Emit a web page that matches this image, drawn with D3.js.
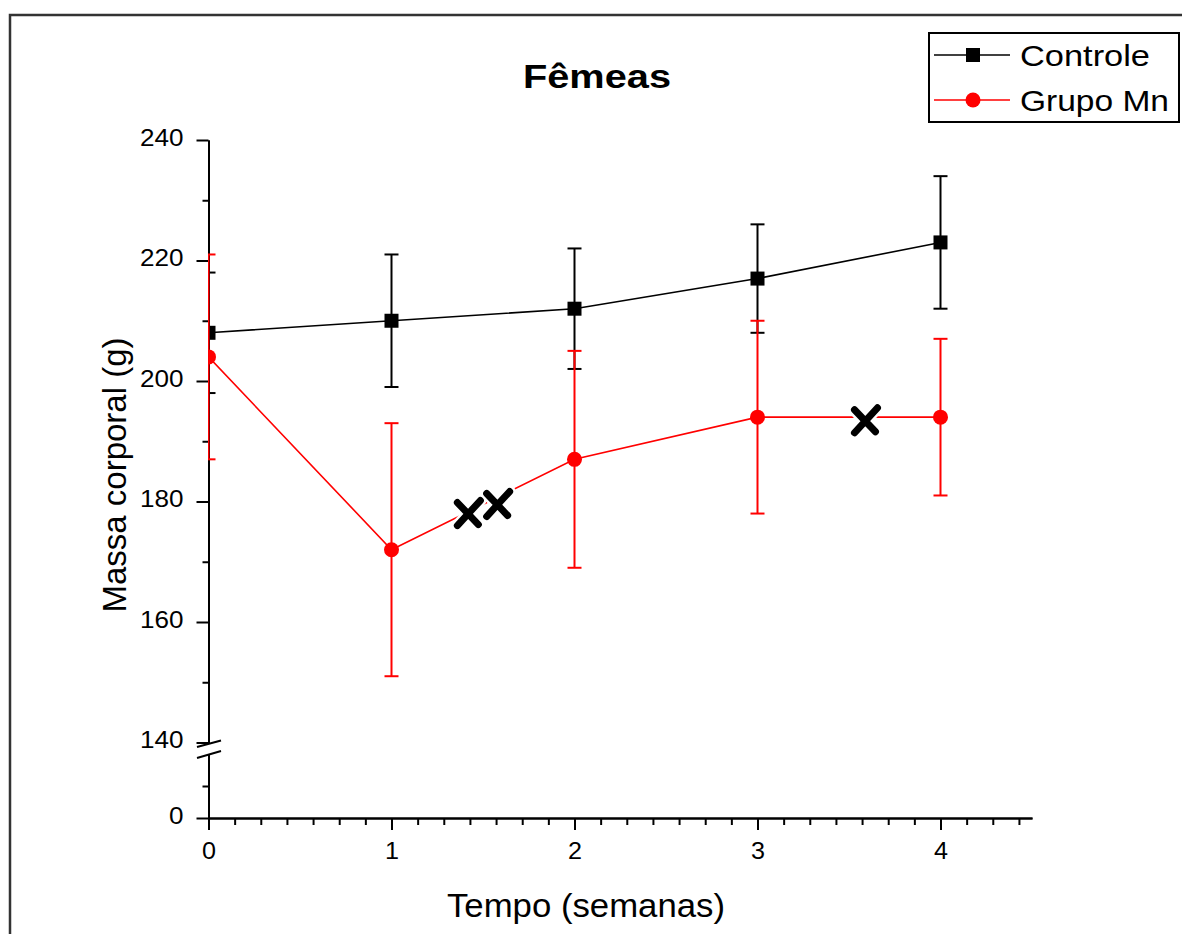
<!DOCTYPE html>
<html>
<head>
<meta charset="utf-8">
<script src="https://d3js.org/d3.v7.min.js"></script>
<style>
  body { margin: 0; background: #fff; }
  svg { font-family: "Liberation Sans", Arial, sans-serif; }
  .axis path, .axis line { stroke: #000; stroke-width: 2; }
</style>
</head>
<body>
<script>

  // data
  var weeks = [0, 1, 2, 3, 4];
  var controleMean = [208, 210, 212, 217, 223];
  var controleErr = [10, 11, 10, 9, 11];
  var mnMean = [204, 172, 187, 194, 194];
  var mnErr = [17, 21, 18, 16, 13];
  var yTicks = [140, 160, 180, 200, 220, 240];
  var yMinor = [150, 170, 190, 210, 230];
  var xTicks = [0, 1, 2, 3, 4];
  // hand drawn "x" marks on the figure
  var marks = [{x: 1.42, y: 178}, {x: 1.58, y: 179.5}, {x: 3.59, y: 193.4}];

  var W = 1182, H = 934;

  var svg = d3.select("body").append("svg")
      .attr("width", W)
      .attr("height", H);

  // outer frame
  svg.append("rect")
      .attr("x", 10).attr("y", 15)
      .attr("width", 1300).attr("height", 1000)
      .attr("fill", "none")
      .attr("stroke", "#333")
      .attr("stroke-width", 2.5);

  var x = d3.scaleLinear().domain([0, 4.5]).range([208.5, 1032]);
  var y = d3.scaleLinear().domain([140, 240]).range([742.5, 140]);
  var yLow = d3.scaleLinear().domain([0, 140]).range([818, 754]);

  function tickText(sel, perChar) {
    sel.selectAll("text")
        .style("font-size", "23px")
        .attr("fill", "#000")
        .attr("textLength", function(d) { return String(d).length * perChar; })
        .attr("lengthAdjust", "spacingAndGlyphs");
  }

  // x axis
  var xMinor = d3.range(1, 32).filter(function(k) { return k % 7 !== 0; }).map(function(k) { return k / 7; });

  svg.append("g")
      .attr("class", "axis")
      .attr("transform", "translate(0,818)")
      .call(d3.axisBottom(x).tickValues(xMinor).tickSize(7).tickSizeOuter(0).tickFormat(""));

  var gx = svg.append("g")
      .attr("class", "axis")
      .attr("transform", "translate(0,818)")
      .call(d3.axisBottom(x).tickValues(xTicks).tickSize(12).tickSizeOuter(0).tickPadding(13).tickFormat(d3.format("d")));
  tickText(gx, 14);

  // upper y axis
  svg.append("g")
      .attr("class", "axis")
      .attr("transform", "translate(208.5,0)")
      .call(d3.axisLeft(y).tickValues(yMinor).tickSize(6).tickSizeOuter(0).tickFormat(""));

  var gy = svg.append("g")
      .attr("class", "axis")
      .attr("transform", "translate(208.5,0)")
      .call(d3.axisLeft(y).tickValues(yTicks).tickSize(12).tickSizeOuter(0).tickPadding(13));
  tickText(gy, 14.5);
  gy.selectAll("text").attr("dy", "0.22em");

  // lower y axis segment (below the break)
  svg.append("g")
      .attr("class", "axis")
      .attr("transform", "translate(208.5,0)")
      .call(d3.axisLeft(yLow).tickValues([70]).tickSize(6).tickSizeOuter(0).tickFormat(""));

  var gyl = svg.append("g")
      .attr("class", "axis")
      .attr("transform", "translate(208.5,0)")
      .call(d3.axisLeft(yLow).tickValues([0]).tickSize(12).tickSizeOuter(0).tickPadding(13));
  tickText(gyl, 14.5);
  gyl.selectAll("text").attr("dy", "0.22em");

  // break marks
  var brk = svg.append("g").attr("stroke", "#000").attr("stroke-width", 2);
  brk.append("line").attr("x1", 197).attr("y1", y(140) + 4.5).attr("x2", 221).attr("y2", y(140) - 2);
  brk.append("line").attr("x1", 197).attr("y1", yLow(140) + 4).attr("x2", 221).attr("y2", yLow(140) - 3);

  // clip to plot area
  svg.append("clipPath").attr("id", "plot")
    .append("rect").attr("x", 208).attr("y", 0).attr("width", 900).attr("height", 818);

  var plot = svg.append("g").attr("clip-path", "url(#plot)");

  var line = d3.line()
      .x(function(d) { return x(d.w); })
      .y(function(d) { return y(d.m); });

  function drawSeries(mean, err, color, shape) {
    var data = weeks.map(function(w, i) { return {w: w, m: mean[i], e: err[i]}; });
    var g = plot.append("g");

    g.append("path")
        .datum(data)
        .attr("d", line)
        .attr("fill", "none")
        .attr("stroke", color)
        .attr("stroke-width", 1.6);

    var eb = g.selectAll(".eb").data(data).enter().append("g")
        .attr("stroke", color).attr("stroke-width", 2);
    eb.append("line")
        .attr("x1", function(d) { return x(d.w); })
        .attr("x2", function(d) { return x(d.w); })
        .attr("y1", function(d) { return y(d.m + d.e); })
        .attr("y2", function(d) { return y(d.m - d.e); });
    eb.append("line")
        .attr("x1", function(d) { return x(d.w) - 7; })
        .attr("x2", function(d) { return x(d.w) + 7; })
        .attr("y1", function(d) { return y(d.m + d.e); })
        .attr("y2", function(d) { return y(d.m + d.e); });
    eb.append("line")
        .attr("x1", function(d) { return x(d.w) - 7; })
        .attr("x2", function(d) { return x(d.w) + 7; })
        .attr("y1", function(d) { return y(d.m - d.e); })
        .attr("y2", function(d) { return y(d.m - d.e); });

    if (shape === "square") {
      g.selectAll(".pt").data(data).enter().append("rect")
          .attr("x", function(d) { return x(d.w) - 7; })
          .attr("y", function(d) { return y(d.m) - 7; })
          .attr("width", 14).attr("height", 14)
          .attr("fill", color);
    } else {
      g.selectAll(".pt").data(data).enter().append("circle")
          .attr("cx", function(d) { return x(d.w); })
          .attr("cy", function(d) { return y(d.m); })
          .attr("r", 7.5)
          .attr("fill", color);
    }
  }

  drawSeries(controleMean, controleErr, "#000", "square");
  drawSeries(mnMean, mnErr, "#ff0000", "circle");

  // hand drawn x marks
  function xPath(cx, cy) {
    return "M" + (cx - 11) + "," + (cy - 11) + "L" + (cx + 10) + "," + (cy + 11) +
           "M" + (cx - 11) + "," + (cy + 12) + "L" + (cx + 12) + "," + (cy - 13);
  }
  var mk = svg.append("g");
  mk.selectAll(".bg").data(marks).enter().append("path")
      .attr("d", function(d) { return xPath(x(d.x), y(d.y)); })
      .attr("fill", "none").attr("stroke", "#fff").attr("stroke-width", 12).attr("stroke-linecap", "round");
  mk.selectAll(".fg").data(marks).enter().append("path")
      .attr("d", function(d) { return xPath(x(d.x), y(d.y)); })
      .attr("fill", "none").attr("stroke", "#000").attr("stroke-width", 7).attr("stroke-linecap", "round");

  // title and axis labels
  svg.append("text")
      .attr("x", 597).attr("y", 88)
      .attr("text-anchor", "middle")
      .attr("font-size", 33).attr("font-weight", "bold")
      .attr("textLength", 148).attr("lengthAdjust", "spacingAndGlyphs")
      .text("Fêmeas");

  svg.append("text")
      .attr("x", 586).attr("y", 917)
      .attr("text-anchor", "middle")
      .attr("font-size", 33)
      .attr("textLength", 278).attr("lengthAdjust", "spacingAndGlyphs")
      .text("Tempo (semanas)");

  svg.append("text")
      .attr("transform", "translate(126,475) rotate(-90)")
      .attr("text-anchor", "middle")
      .attr("font-size", 33)
      .attr("textLength", 275).attr("lengthAdjust", "spacingAndGlyphs")
      .text("Massa corporal (g)");

  // legend
  var legendItems = [
    {name: "Controle", color: "#000", shape: "square"},
    {name: "Grupo Mn", color: "#ff0000", shape: "circle"}
  ];

  var legend = svg.append("g");
  legend.append("rect")
      .attr("x", 929).attr("y", 33)
      .attr("width", 250).attr("height", 89)
      .attr("fill", "#fff").attr("stroke", "#000").attr("stroke-width", 2);

  var li = legend.selectAll(".item").data(legendItems).enter().append("g")
      .attr("transform", function(d, i) { return "translate(0," + (55 + i * 45) + ")"; });
  li.append("line")
      .attr("x1", 934).attr("x2", 1010)
      .attr("stroke", function(d) { return d.color; })
      .attr("stroke-width", 1.6);
  li.each(function(d) {
    var g = d3.select(this);
    if (d.shape === "square") {
      g.append("rect").attr("x", 966).attr("y", -7).attr("width", 14).attr("height", 14).attr("fill", d.color);
    } else {
      g.append("circle").attr("cx", 973).attr("cy", 0).attr("r", 7.5).attr("fill", d.color);
    }
  });
  li.append("text")
      .attr("x", 1020).attr("y", 11)
      .attr("font-size", 30)
      .attr("textLength", function(d, i) { return i === 0 ? 130 : 149; })
      .attr("lengthAdjust", "spacingAndGlyphs")
      .text(function(d) { return d.name; });

</script>
</body>
</html>
